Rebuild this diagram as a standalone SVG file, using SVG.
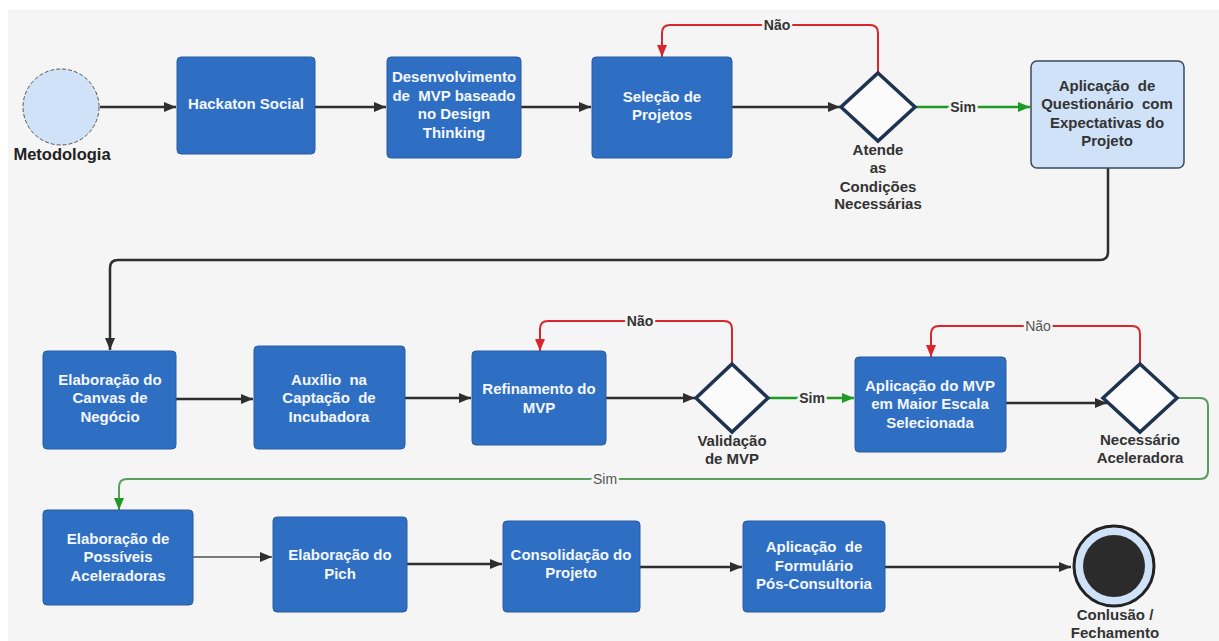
<svg xmlns="http://www.w3.org/2000/svg" width="1219" height="641" viewBox="0 0 1219 641">
<style>
.box{fill:#2f6fc3;stroke:#2a5aa0;stroke-width:1}
.bt{font-family:"Liberation Sans",Arial,sans-serif;font-weight:bold;font-size:15px;fill:#f4f7fc;text-anchor:middle;white-space:pre}
.dt{font-family:"Liberation Sans",Arial,sans-serif;font-weight:bold;font-size:15px;fill:#333;text-anchor:middle;white-space:pre}
.dia{fill:#fbfbfb;stroke:#1d3350;stroke-width:3.5;stroke-linejoin:miter}
.c{fill:none;stroke:#2e2e2e;stroke-width:2.5}
.red{fill:none;stroke:#d8262c;stroke-width:2}
.grn{fill:none;stroke:#1f9a24;stroke-width:2.5}
.grn2{fill:none;stroke:#5c9c5c;stroke-width:2}
.lbl{font-family:"Liberation Sans",Arial,sans-serif;font-size:14px;text-anchor:middle;stroke:#f5f5f5;stroke-width:5;paint-order:stroke}
</style>
<defs>
<marker id="ad" viewBox="0 0 12 10" refX="12" refY="5" markerWidth="12" markerHeight="10" markerUnits="userSpaceOnUse" orient="auto"><path d="M0,0 L12,5 L0,10 z" fill="#2e2e2e"/></marker>
<marker id="ar" viewBox="0 0 12 10" refX="12" refY="5" markerWidth="12" markerHeight="10" markerUnits="userSpaceOnUse" orient="auto"><path d="M0,0 L12,5 L0,10 z" fill="#d8262c"/></marker>
<marker id="ag" viewBox="0 0 12 10" refX="12" refY="5" markerWidth="12" markerHeight="10" markerUnits="userSpaceOnUse" orient="auto"><path d="M0,0 L12,5 L0,10 z" fill="#1f9a24"/></marker>
</defs>
<rect x="0" y="0" width="1219" height="641" fill="#ffffff"/>
<rect x="8" y="10" width="1211" height="631" fill="#f5f5f5"/>

<g id="connectors">
<path class="c" d="M100,107 H176" marker-end="url(#ad)"/>
<path class="c" d="M315,107 H386" marker-end="url(#ad)"/>
<path class="c" d="M521,107 H591" marker-end="url(#ad)"/>
<path class="c" d="M732,107 H840" marker-end="url(#ad)"/>
<path class="grn" d="M915,107 H1030" marker-end="url(#ag)"/>
<path class="red" d="M878,73 V33 Q878,25 870,25 H670 Q662,25 662,33 V57" marker-end="url(#ar)"/>
<path class="c" d="M1108,168 V252 Q1108,260 1100,260 H118 Q110,260 110,268 V350" marker-end="url(#ad)"/>
<path class="c" d="M176,399 H253" marker-end="url(#ad)"/>
<path class="c" d="M405,398 H471" marker-end="url(#ad)"/>
<path class="c" d="M606,398 H695" marker-end="url(#ad)"/>
<path class="red" d="M732,364 V329 Q732,321 724,321 H548 Q540,321 540,329 V351" marker-end="url(#ar)"/>
<path class="grn" d="M768,398 H854" marker-end="url(#ag)"/>
<path class="c" d="M1006,403 H1107" marker-end="url(#ad)"/>
<path class="red" d="M1140,364 V334 Q1140,326 1132,326 H939 Q931,326 931,334 V357" marker-end="url(#ar)"/>
<path class="grn2" d="M1177,398 H1200 Q1208,398 1208,406 V471 Q1208,479 1200,479 H127 Q119,479 119,487 V510" marker-end="url(#ag)"/>
<path d="M193,557 H272" fill="none" stroke="#7a7a7a" stroke-width="2" marker-end="url(#ad)"/>
<path class="c" d="M407,564 H502" marker-end="url(#ad)"/>
<path class="c" d="M640,567 H742" marker-end="url(#ad)"/>
<path class="c" d="M885,567 H1071" marker-end="url(#ad)"/>
<text class="lbl" x="777" y="30" font-weight="bold" fill="#333">Não</text>
<text class="lbl" x="963" y="112" font-weight="bold" fill="#333">Sim</text>
<text class="lbl" x="640" y="326" font-weight="bold" fill="#333">Não</text>
<text class="lbl" x="812" y="403" font-weight="bold" fill="#333">Sim</text>
<text class="lbl" x="1038" y="331" fill="#555">Não</text>
<text class="lbl" x="605" y="484" fill="#555">Sim</text>
</g>

<g id="metodologia">
<circle cx="61" cy="107" r="38" fill="#cfe2f8" stroke="#555" stroke-width="1" stroke-dasharray="4 2"/>
<text x="62" y="160" font-family="Liberation Sans, Arial, sans-serif" font-weight="bold" font-size="16.5" fill="#222" text-anchor="middle">Metodologia</text>
</g>

<g id="hackaton">
<rect class="box" x="177" y="57" width="138" height="97" rx="4"/>
<text class="bt" x="246" y="109">Hackaton Social</text>
</g>

<g id="desenvolvimento">
<rect class="box" x="387" y="57" width="134" height="101" rx="4"/>
<text class="bt" x="454" y="82">Desenvolvimento</text>
<text class="bt" x="454" y="100.5">de  MVP baseado</text>
<text class="bt" x="454" y="119">no Design</text>
<text class="bt" x="454" y="137.5">Thinking</text>
</g>

<g id="selecao">
<rect class="box" x="592" y="57" width="140" height="101" rx="4"/>
<text class="bt" x="662" y="102">Seleção de</text>
<text class="bt" x="662" y="120">Projetos</text>
</g>

<g id="atende">
<polygon class="dia" points="878,73 915,107 878,141 841,107"/>
<text class="dt" x="878" y="155">Atende</text>
<text class="dt" x="878" y="173">as</text>
<text class="dt" x="878" y="192">Condições</text>
<text class="dt" x="878" y="209">Necessárias</text>
</g>

<g id="questionario">
<rect x="1031" y="61" width="153" height="107" rx="6" fill="#cfe2f8" stroke="#3a4a5c" stroke-width="1.5"/>
<text class="dt" x="1107" y="91">Aplicação  de</text>
<text class="dt" x="1107" y="109">Questionário  com</text>
<text class="dt" x="1107" y="128">Expectativas do</text>
<text class="dt" x="1107" y="146">Projeto</text>
</g>

<g id="canvas">
<rect class="box" x="43" y="351" width="133" height="98" rx="4"/>
<text class="bt" x="110" y="385">Elaboração do</text>
<text class="bt" x="110" y="403">Canvas de</text>
<text class="bt" x="110" y="422">Negócio</text>
</g>

<g id="auxilio">
<rect class="box" x="254" y="346" width="151" height="103" rx="4"/>
<text class="bt" x="329" y="385">Auxílio  na</text>
<text class="bt" x="329" y="403">Captação  de</text>
<text class="bt" x="329" y="422">Incubadora</text>
</g>

<g id="refinamento">
<rect class="box" x="472" y="351" width="134" height="94" rx="4"/>
<text class="bt" x="539" y="394">Refinamento do</text>
<text class="bt" x="539" y="413">MVP</text>
</g>

<g id="validacao">
<polygon class="dia" points="732,364 768,398 732,432 696,398"/>
<text class="dt" x="732" y="446">Validação</text>
<text class="dt" x="732" y="464">de MVP</text>
</g>

<g id="aplicacao-mvp">
<rect class="box" x="855" y="357" width="151" height="95" rx="4"/>
<text class="bt" x="930" y="391">Aplicação do MVP</text>
<text class="bt" x="930" y="409">em Maior Escala</text>
<text class="bt" x="930" y="428">Selecionada</text>
</g>

<g id="necessario">
<polygon class="dia" points="1140,364 1177,398 1140,432 1103,398"/>
<text class="dt" x="1140" y="445">Necessário</text>
<text class="dt" x="1140" y="463">Aceleradora</text>
</g>

<g id="possiveis">
<rect class="box" x="43" y="510" width="150" height="95" rx="4"/>
<text class="bt" x="118" y="544">Elaboração de</text>
<text class="bt" x="118" y="562">Possíveis</text>
<text class="bt" x="118" y="581">Aceleradoras</text>
</g>

<g id="pich">
<rect class="box" x="273" y="517" width="134" height="95" rx="4"/>
<text class="bt" x="340" y="560">Elaboração do</text>
<text class="bt" x="340" y="579">Pich</text>
</g>

<g id="consolidacao">
<rect class="box" x="503" y="521" width="137" height="91" rx="4"/>
<text class="bt" x="571" y="560">Consolidação do</text>
<text class="bt" x="571" y="578">Projeto</text>
</g>

<g id="formulario">
<rect class="box" x="743" y="521" width="142" height="91" rx="4"/>
<text class="bt" x="814" y="552">Aplicação  de</text>
<text class="bt" x="814" y="571">Formulário</text>
<text class="bt" x="814" y="589">Pós-Consultoria</text>
</g>

<g id="fechamento">
<circle cx="1114" cy="566" r="40" fill="#cfe2f8" stroke="#222" stroke-width="3"/>
<circle cx="1114" cy="566" r="31" fill="#2b2b2b"/>
<text class="dt" x="1115" y="620">Conlusão /</text>
<text class="dt" x="1115" y="638">Fechamento</text>
</g>
</svg>
